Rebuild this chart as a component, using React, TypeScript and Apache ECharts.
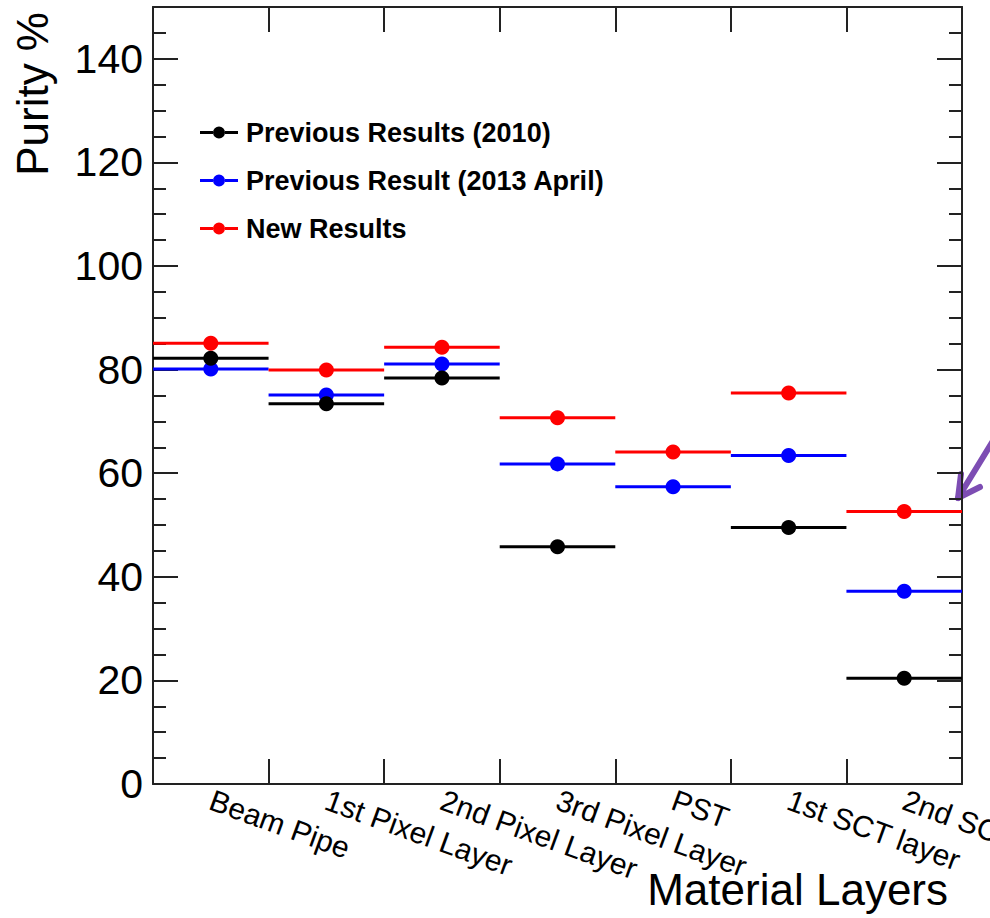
import React, { useEffect, useRef } from "react";
import * as echarts from "echarts";

const categories = [
  "Beam Pipe",
  "1st Pixel Layer",
  "2nd Pixel Layer",
  "3rd Pixel Layer",
  "PST",
  "1st SCT layer",
  "2nd SCT layer",
];
const seriesNames = [
  "Previous Results (2010)",
  "Previous Result (2013 April)",
  "New Results",
];
const prev2010: (number | null)[] = [82.2, 73.4, 78.4, 45.8, null, 49.5, 20.4];
const prev2013: (number | null)[] = [80.1, 75.1, 81.1, 61.8, 57.4, 63.4, 37.2];
const newResults: (number | null)[] = [85.1, 79.9, 84.3, 70.7, 64.1, 75.5, 52.6];
const seriesColors = ["#000000", "#0000ff", "#ff0000"];

const FONT = "'Liberation Sans', Arial, Helvetica, sans-serif";
const LEGEND_ICON =
  "path://M0,5.5 H13 V8.5 H0 Z M25,5.5 H38 V8.5 H25 Z M13,7 A6,6 0 1 1 25,7 A6,6 0 1 1 13,7 Z";

function toData(values: (number | null)[]) {
  const out: number[][] = [];
  values.forEach((v, i) => {
    if (v !== null) out.push([i, v]);
  });
  return out;
}

function makeSeries(name: string, values: (number | null)[], color: string) {
  return {
    type: "custom",
    name,
    xAxisIndex: 0,
    yAxisIndex: 0,
    itemStyle: { color },
    data: toData(values),
    renderItem: (params: any, api: any) => {
      const c = api.coord([api.value(0), api.value(1)]);
      const w = api.size([1, 0])[0];
      return {
        type: "group",
        children: [
          {
            type: "line",
            shape: { x1: c[0] - w / 2, y1: c[1], x2: c[0] + w / 2, y2: c[1] },
            style: { stroke: color, lineWidth: 3 },
          },
          {
            type: "circle",
            shape: { cx: c[0], cy: c[1], r: 7.5 },
            style: { fill: color },
          },
        ],
      };
    },
  };
}

export default function App() {
  const ref = useRef<HTMLDivElement>(null);
  useEffect(() => {
    if (!ref.current) return;
    const chart = echarts.init(ref.current, null, { renderer: "svg" });
    const axisLine = { show: true, onZero: false, lineStyle: { color: "#222", width: 2 } };
    const noLine = { show: false, onZero: false };
    const yBase = { type: "value", min: 0, max: 150, splitLine: { show: false } };
    chart.setOption({
      animation: false,
      backgroundColor: "#ffffff",
      grid: {
        left: 153,
        right: 28,
        top: 7,
        bottom: 134,
        containLabel: false,
        outerBoundsMode: "none",
      },
      legend: {
        orient: "vertical",
        left: 200,
        top: 119,
        padding: 0,
        itemWidth: 38,
        itemHeight: 12,
        itemGap: 21,
        selectedMode: false,
        textStyle: {
          fontFamily: FONT,
          fontSize: 27,
          fontWeight: "bold",
          color: "#000",
          padding: [0, 0, 0, 3],
        },
        data: seriesNames.map((n) => ({ name: n, icon: LEGEND_ICON })),
      },
      xAxis: [
        {
          type: "category",
          data: categories,
          position: "bottom",
          boundaryGap: true,
          axisLine,
          axisTick: { show: true, inside: true, length: 25, lineStyle: { color: "#222", width: 2 } },
          axisLabel: {
            show: true,
            interval: 0,
            rotate: -20,
            margin: 15,
            hideOverlap: false,
            fontFamily: FONT,
            fontSize: 30,
            color: "#000",
          },
          splitLine: { show: false },
        },
        {
          type: "category",
          data: categories,
          position: "top",
          boundaryGap: true,
          axisLine,
          axisTick: { show: true, inside: true, length: 25, lineStyle: { color: "#222", width: 2 } },
          axisLabel: { show: false },
          splitLine: { show: false },
        },
      ],
      yAxis: [
        {
          ...yBase,
          position: "left",
          interval: 20,
          axisLine,
          axisTick: { show: true, inside: true, length: 25, lineStyle: { color: "#222", width: 2 } },
          axisLabel: {
            show: true,
            showMaxLabel: false,
            margin: 10,
            fontFamily: FONT,
            fontSize: 41,
            color: "#000",
          },
        },
        {
          ...yBase,
          position: "left",
          interval: 5,
          axisLine: noLine,
          axisTick: { show: true, inside: true, length: 13, lineStyle: { color: "#222", width: 2 } },
          axisLabel: { show: false },
        },
        {
          ...yBase,
          position: "right",
          interval: 20,
          axisLine,
          axisTick: { show: true, inside: true, length: 25, lineStyle: { color: "#222", width: 2 } },
          axisLabel: { show: false },
        },
        {
          ...yBase,
          position: "right",
          interval: 5,
          axisLine: noLine,
          axisTick: { show: true, inside: true, length: 13, lineStyle: { color: "#222", width: 2 } },
          axisLabel: { show: false },
        },
      ],
      series: [
        makeSeries(seriesNames[1], prev2013, seriesColors[1]),
        makeSeries(seriesNames[0], prev2010, seriesColors[0]),
        makeSeries(seriesNames[2], newResults, seriesColors[2]),
      ],
      graphic: [
        {
          type: "text",
          x: 32,
          y: 12,
          rotation: Math.PI / 2,
          style: {
            text: "Purity %",
            fontFamily: FONT,
            fontSize: 44,
            fill: "#000",
            textAlign: "right",
            textVerticalAlign: "middle",
          },
        },
        {
          type: "text",
          x: 948,
          y: 889,
          style: {
            text: "Material Layers",
            fontFamily: FONT,
            fontSize: 44,
            fill: "#000",
            textAlign: "right",
            textVerticalAlign: "middle",
          },
        },
        {
          type: "polyline",
          shape: { points: [[996, 436], [958, 498]] },
          style: { stroke: "#7d4db3", lineWidth: 6, lineCap: "round" },
        },
        {
          type: "polyline",
          shape: { points: [[961, 474], [958, 498], [980, 487]] },
          style: { stroke: "#7d4db3", lineWidth: 6, lineCap: "round", lineJoin: "round", fill: null },
        },
      ],
    });
    return () => chart.dispose();
  }, []);
  return (
    <div
      ref={ref}
      style={{ position: "fixed", left: 0, top: 0, width: 990, height: 918, background: "#fff" }}
    />
  );
}
